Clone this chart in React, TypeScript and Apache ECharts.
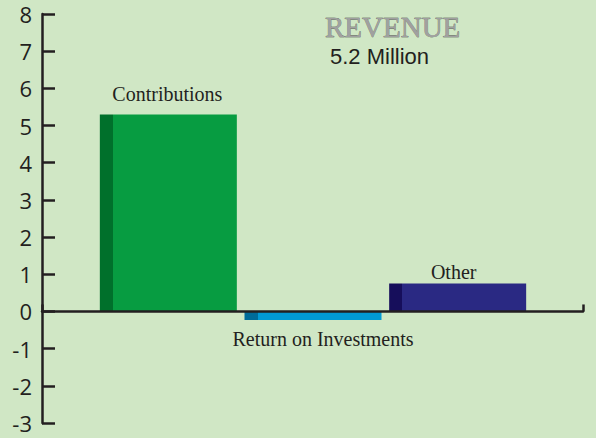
import React, { useEffect, useRef } from "react";
import * as echarts from "echarts";

const categories = ["Contributions", "Return on Investments", "Other"];
const values = [5.3, -0.23, 0.75];
const lightColors = ["#079c41", "#0199d4", "#2a2983"];
const darkColors = ["#00702b", "#006b99", "#160e5b"];
const labelPositions = ["top", "bottom", "top"];
const labelDistances = [10, 9, 2];
const labelOffsets = [[-1, 0], [10, 0], [-4, 0]];
const titleText = "REVENUE";
const subtitleText = "5.2 Million";
const yMin = -3;
const yMax = 8;

export default function App() {
  const ref = useRef<HTMLDivElement>(null);
  useEffect(() => {
    if (!ref.current) return;
    const chart = echarts.init(ref.current, null, { renderer: "svg" });
    const axisColor = "#231f20";
    const stripe = 13 / 137;
    const data = values.map((v, i) => ({
      value: v,
      itemStyle: {
        color: new echarts.graphic.LinearGradient(0, 0, 1, 0, [
          { offset: 0, color: darkColors[i] },
          { offset: stripe, color: darkColors[i] },
          { offset: stripe, color: lightColors[i] },
          { offset: 1, color: lightColors[i] },
        ]),
      },
      label: {
        show: true,
        position: labelPositions[i],
        distance: labelDistances[i],
        offset: labelOffsets[i],
        formatter: categories[i],
        fontFamily: "Liberation Serif",
        fontSize: 20,
        color: axisColor,
      },
    }));
    chart.setOption({
      animation: false,
      backgroundColor: "#d0e7c5",
      title: [
        {
          text: titleText,
          left: 320,
          top: 7,
          textStyle: {
            fontFamily: "Liberation Serif",
            fontSize: 29,
            fontWeight: "normal",
            color: "#a0a0a0",
            textBorderColor: "#333333",
            textBorderWidth: 0.4,
          },
        },
        {
          text: subtitleText,
          left: 325,
          top: 40,
          textStyle: {
            fontFamily: "Liberation Sans",
            fontSize: 22,
            fontWeight: "normal",
            color: axisColor,
          },
        },
      ],
      grid: [
        { left: 42, right: 13, top: 14, bottom: 15 },
        { left: 96, right: 66, top: 14, bottom: 15 },
      ],
      xAxis: [
        {
          type: "value",
          gridIndex: 0,
          min: 0,
          max: 1,
          interval: 1,
          z: 5,
          axisLine: { show: true, onZero: true, lineStyle: { color: axisColor, width: 2.5 } },
          axisTick: { show: true, inside: true, length: 7, lineStyle: { color: axisColor, width: 2.5 } },
          axisLabel: { show: false },
          splitLine: { show: false },
        },
        {
          type: "category",
          gridIndex: 1,
          data: categories,
          show: false,
        },
      ],
      yAxis: [
        {
          type: "value",
          gridIndex: 0,
          min: yMin,
          max: yMax,
          interval: 1,
          z: 5,
          axisLine: { show: true, lineStyle: { color: axisColor, width: 2.5 } },
          axisTick: { show: true, inside: true, length: 13, lineStyle: { color: axisColor, width: 2.5 } },
          axisLabel: {
            margin: 10,
            fontFamily: "Open Sans",
            fontSize: 22,
            color: axisColor,
          },
          splitLine: { show: false },
        },
        {
          type: "value",
          gridIndex: 1,
          min: yMin,
          max: yMax,
          show: false,
        },
      ],
      series: [
        {
          type: "scatter",
          xAxisIndex: 0,
          yAxisIndex: 0,
          data: [],
        },
        {
          type: "bar",
          xAxisIndex: 1,
          yAxisIndex: 1,
          barWidth: 137,
          data,
        },
      ],
    });
    return () => chart.dispose();
  }, []);
  return (
    <div
      ref={ref}
      style={{ position: "fixed", left: 0, top: 0, width: 596, height: 438 }}
    />
  );
}
